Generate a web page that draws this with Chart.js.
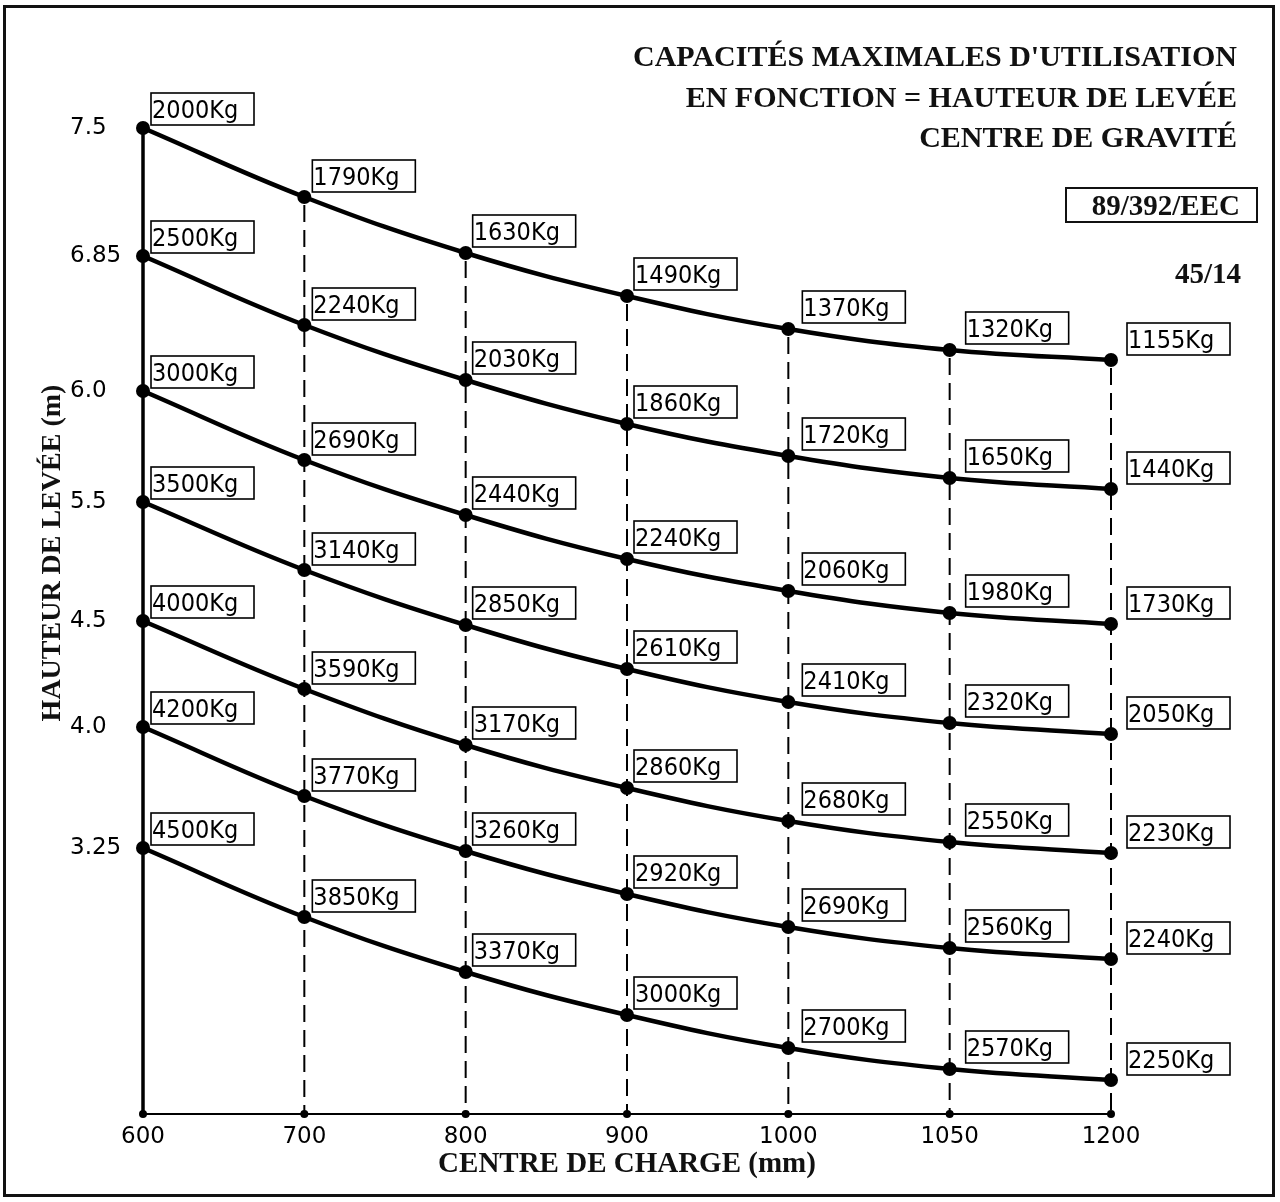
<!DOCTYPE html>
<html>
<head>
<meta charset="utf-8">
<script src="https://cdn.jsdelivr.net/npm/chart.js@4.4.1/dist/chart.umd.min.js"></script>
<style>
  html, body { margin: 0; padding: 0; background: #fff; }
  #wrap { position: relative; width: 1280px; height: 1202px; overflow: hidden; }
  #chartBox { position: absolute; left: 0; top: 0; width: 1280px; height: 1202px; }
  #frame { position: absolute; left: 3px; top: 5px; width: 1272px; height: 1192px; border: 3px solid #111; box-sizing: border-box; pointer-events: none; }
  .serif { position: absolute; white-space: nowrap; color: #111; font-family: "Liberation Serif", "Times New Roman", serif; font-weight: bold; }
  #head { right: 43px; top: 36px; font-size: 30px; line-height: 40.5px; text-align: right; }
  #eec { left: 1065px; top: 187px; width: 193px; height: 36px; border: 2px solid #111; box-sizing: border-box; font-size: 29px; line-height: 32px; text-align: right; padding-right: 16px; }
  #ref { right: 39px; top: 257px; font-size: 29px; line-height: 32px; }
</style>
</head>
<body>
<div id="wrap">
  <div id="chartBox"><canvas id="capChart"></canvas></div>
  <div id="head" class="serif">CAPACITÉS MAXIMALES D'UTILISATION<br>EN FONCTION = HAUTEUR DE LEVÉE<br>CENTRE DE GRAVITÉ</div>
  <div id="eec" class="serif">89/392/EEC</div>
  <div id="ref" class="serif">45/14</div>
  <div id="frame"></div>
</div>
<script>
// centre de charge (mm) - categories on the x axis
const centres = ['600', '700', '800', '900', '1000', '1050', '1200'];
// hauteur de levée (m) printed at the start of each curve
const hauteurs = ['7.5', '6.85', '6.0', '5.5', '4.5', '4.0', '3.25'];

// vertical position of each curve on the drawing (0 = x axis, 100 = top of plot)
const courbe75  = [98.6, 91.7, 86.1, 81.8, 78.5, 76.4, 75.4];
const courbe685 = [85.8, 78.9, 73.4, 69.0, 65.8, 63.6, 62.5];
const courbe60  = [72.3, 65.4, 59.9, 55.5, 52.3, 50.1, 49.0];
const courbe55  = [61.2, 54.4, 48.9, 44.5, 41.2, 39.1, 38.0];
const courbe45  = [49.3, 42.5, 36.9, 32.6, 29.3, 27.2, 26.1];
const courbe40  = [38.7, 31.8, 26.3, 22.0, 18.7, 16.6, 15.5];
const courbe325 = [26.6, 19.7, 14.2, 9.9, 6.6, 4.5, 3.4];

// capacity (kg) at each point
const charge75  = [2000, 1790, 1630, 1490, 1370, 1320, 1155];
const charge685 = [2500, 2240, 2030, 1860, 1720, 1650, 1440];
const charge60  = [3000, 2690, 2440, 2240, 2060, 1980, 1730];
const charge55  = [3500, 3140, 2850, 2610, 2410, 2320, 2050];
const charge45  = [4000, 3590, 3170, 2860, 2680, 2550, 2230];
const charge40  = [4200, 3770, 3260, 2920, 2690, 2560, 2240];
const charge325 = [4500, 3850, 3370, 3000, 2700, 2570, 2250];

const courbes = [courbe75, courbe685, courbe60, courbe55, courbe45, courbe40, courbe325];
const charges = [charge75, charge685, charge60, charge55, charge45, charge40, charge325];
const departs = courbes.map(c => c[0]);

const yTitle = 'HAUTEUR DE LEVÉE (m)';
const xTitle = 'CENTRE DE CHARGE (mm)';

const LABEL_FONT = '25px "DejaVu Sans", sans-serif';
const SERIF_BOLD = '"Liberation Serif", "Times New Roman", serif';

// box offset from its point, per column
const boxDx = [8, 8, 7, 7, 14, 16, 16];
const boxDy = [-3, -5, -6, -6, -6, -6, -5];

// vertical reference lines from the top curve down to the axis
const dropLines = {
  id: 'dropLines',
  beforeDatasetsDraw(chart) {
    const { ctx, chartArea, scales: { x } } = chart;
    const tops = chart.getDatasetMeta(0).data;
    ctx.save();
    ctx.strokeStyle = '#000';
    tops.forEach((pt, i) => {
      ctx.lineWidth = i === 0 ? 3.5 : 2;
      ctx.setLineDash(i === 0 ? [] : [17, 8]);
      ctx.lineDashOffset = -8;
      ctx.beginPath();
      ctx.moveTo(pt.x, pt.y);
      ctx.lineTo(pt.x, chartArea.bottom);
      ctx.stroke();
    });
    ctx.setLineDash([]);
    ctx.fillStyle = '#000';
    x.ticks.forEach((t, i) => {
      ctx.beginPath();
      ctx.arc(x.getPixelForTick(i), chartArea.bottom, 4, 0, Math.PI * 2);
      ctx.fill();
    });
    ctx.restore();
  }
};

// boxed "xxxxKg" labels next to every point (text squeezed a little, like the CAD font)
const labelBoxes = {
  id: 'labelBoxes',
  afterDatasetsDraw(chart) {
    const { ctx } = chart;
    ctx.save();
    ctx.strokeStyle = '#000';
    ctx.fillStyle = '#000';
    ctx.lineWidth = 1.6;
    chart.data.datasets.forEach((ds, d) => {
      chart.getDatasetMeta(d).data.forEach((pt, i) => {
        const left = pt.x + boxDx[i];
        const bottom = pt.y + boxDy[i];
        ctx.strokeRect(left, bottom - 32, 103, 32);
        ctx.save();
        ctx.translate(left + 1, bottom - 7);
        ctx.scale(0.9, 1);
        ctx.font = LABEL_FONT;
        ctx.textAlign = 'left';
        ctx.textBaseline = 'alphabetic';
        ctx.fillText(charges[d][i] + 'Kg', 0, 0);
        ctx.restore();
      });
    });
    ctx.restore();
  }
};

// rotated y axis title, sitting left of the left-aligned tick labels
const yAxisTitle = {
  id: 'yAxisTitle',
  afterDraw(chart) {
    const { ctx, chartArea } = chart;
    ctx.save();
    ctx.translate(60, (chartArea.top + chartArea.bottom) / 2 - 61);
    ctx.rotate(-Math.PI / 2);
    ctx.font = 'bold 28px ' + SERIF_BOLD;
    ctx.fillStyle = '#111';
    ctx.textAlign = 'center';
    ctx.textBaseline = 'alphabetic';
    ctx.fillText(yTitle, 0, 0);
    ctx.restore();
  }
};

new Chart(document.getElementById('capChart'), {
  type: 'line',
  data: {
    labels: centres,
    datasets: courbes.map((c, i) => ({
      label: hauteurs[i] + ' m',
      data: c,
      borderColor: '#000',
      borderWidth: 4.5,
      backgroundColor: '#000',
      pointBackgroundColor: '#000',
      pointBorderWidth: 0,
      pointRadius: 7,
      pointHoverRadius: 7,
      tension: 0.4,
      fill: false,
      clip: false,
    })),
  },
  options: {
    responsive: true,
    maintainAspectRatio: false,
    animation: false,
    events: [],
    layout: { padding: { left: 70, right: 169, top: 114, bottom: 18 } },
    plugins: { legend: { display: false }, tooltip: { enabled: false }, title: { display: false } },
    scales: {
      x: {
        type: 'category',
        offset: false,
        grid: { display: false, drawTicks: false },
        border: { display: true, color: '#000', width: 2 },
        ticks: { color: '#000', font: { family: '"DejaVu Sans"', size: 23 }, padding: 9, maxRotation: 0, autoSkip: false },
        title: { display: true, text: xTitle, color: '#111', font: { family: SERIF_BOLD, size: 29, weight: 'bold' }, padding: { top: 0, bottom: 2 } },
        afterFit(scale) { scale.height = 70; },
      },
      y: {
        min: 0,
        max: 100,
        grid: { display: false, drawTicks: false },
        border: { display: false },
        ticks: {
          color: '#000',
          font: { family: '"DejaVu Sans"', size: 23 },
          crossAlign: 'far',
          callback: v => hauteurs[departs.indexOf(v)],
        },
        afterBuildTicks(scale) {
          scale.ticks = departs.slice().sort((a, b) => a - b).map(v => ({ value: v }));
        },
        afterFit(scale) { scale.width = 73; },
      },
    },
  },
  plugins: [dropLines, labelBoxes, yAxisTitle],
});
</script>
</body>
</html>
